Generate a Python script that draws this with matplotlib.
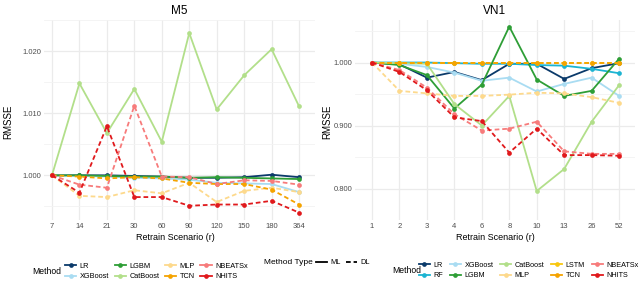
import matplotlib.pyplot as plt
from matplotlib.lines import Line2D

plt.rcParams["font.family"] = ["Liberation Sans", "DejaVu Sans"]

# ---- data ----
m5_x = ["7", "14", "21", "30", "60", "90", "120", "150", "180", "364"]
vn1_x = ["1", "2", "3", "4", "6", "8", "10", "13", "26", "52"]

m5 = {
    "LR":      [1.0000, 1.0000, 1.0000, 0.9999, 0.9998, 0.9996, 0.9996, 0.9997, 1.0001, 0.9997],
    "XGBoost": [1.0000, 0.9999, 0.9998, 0.9996, 0.9995, 0.9993, 0.9988, 0.9987, 0.9986, 0.9973],
    "LGBM":    [1.0000, 1.0000, 0.9999, 0.9998, 0.9998, 0.9996, 0.9997, 0.9996, 0.9995, 0.9994],
    "CatBoost":[1.0000, 1.0148, 1.0068, 1.0139, 1.0054, 1.0229, 1.0106, 1.0161, 1.0203, 1.0111],
    "MLP":     [1.0000, 0.9967, 0.9965, 0.9976, 0.9971, 0.9988, 0.9957, 0.9975, 0.9980, 0.9973],
    "TCN":     [1.0000, 0.9998, 0.9995, 0.9997, 0.9995, 0.9988, 0.9986, 0.9986, 0.9977, 0.9953],
    "NBEATSx": [1.0000, 0.9985, 0.9980, 1.0112, 0.9998, 0.9997, 0.9986, 0.9992, 0.9991, 0.9985],
    "NHITS":   [1.0000, 0.9972, 1.0079, 0.9965, 0.9965, 0.9951, 0.9953, 0.9953, 0.9959, 0.9940],
}

vn1 = {
    "LR":      [1.000, 0.997, 0.976, 0.985, 0.972, 0.998, 0.998, 0.974, 0.991, 0.999],
    "RF":      [1.000, 1.000, 1.000, 0.999, 0.998, 0.998, 0.996, 0.995, 0.990, 0.983],
    "XGBoost": [1.000, 0.998, 0.993, 0.984, 0.971, 0.976, 0.954, 0.966, 0.976, 0.947],
    "LGBM":    [1.000, 0.996, 0.980, 0.927, 0.965, 1.057, 0.973, 0.947, 0.955, 1.006],
    "CatBoost":[1.000, 0.999, 0.998, 0.934, 0.900, 0.947, 0.796, 0.831, 0.906, 0.964],
    "MLP":     [1.000, 0.955, 0.951, 0.947, 0.947, 0.949, 0.952, 0.951, 0.945, 0.936],
    "LSTM":    [1.000, 1.000, 1.000, 1.000, 1.000, 1.000, 1.000, 1.000, 1.000, 1.000],
    "TCN":     [1.000, 1.000, 1.000, 1.000, 1.000, 1.000, 1.000, 1.000, 1.000, 1.000],
    "NBEATSx": [1.000, 0.988, 0.960, 0.918, 0.892, 0.895, 0.906, 0.859, 0.855, 0.855],
    "NHITS":   [1.000, 0.985, 0.956, 0.913, 0.907, 0.857, 0.895, 0.853, 0.853, 0.852],
}

colors = {
    "LR": "#0b3a6a", "RF": "#1cb4d2", "XGBoost": "#a9dcf2", "LGBM": "#2e9e36",
    "CatBoost": "#b2df8a", "MLP": "#fdd98c", "LSTM": "#f8c70f", "TCN": "#f5a300",
    "NBEATSx": "#f77b7b", "NHITS": "#e0191c",
}
dl = {"MLP", "LSTM", "TCN", "NBEATSx", "NHITS"}
DASH = (0, (2.6, 1.6))

fig = plt.figure(figsize=(6.4, 2.83), dpi=100)
W, H = 640, 283


def px_axes(x0, y0, x1, y1):
    return fig.add_axes([x0 / W, 1 - y1 / H, (x1 - x0) / W, (y1 - y0) / H])


def draw_panel(ax, xs, data, title, ylim, yticks, xlim):
    for name, vals in data.items():
        ls = DASH if name in dl else "-"
        ax.plot(xs, vals, color=colors[name], lw=1.3, ls=ls, marker="o",
                ms=3.4, mec=colors[name], mew=0)
    ax.set_xlim(*xlim)
    ax.set_ylim(*ylim)
    ax.set_yticks(yticks)
    ax.set_yticklabels([f"{t:.3f}" for t in yticks])
    step = yticks[1] - yticks[0]
    minor = [yticks[0] - step / 2] + [t + step / 2 for t in yticks]
    ax.set_yticks(minor, minor=True)
    ax.grid(True, which="major", color="#ebebeb", lw=0.9)
    ax.grid(True, which="minor", axis="y", color="#f3f3f3", lw=0.6)
    ax.set_axisbelow(True)
    for s in ax.spines.values():
        s.set_visible(False)
    ax.tick_params(which="both", length=0, labelsize=5.5, labelcolor="#4d4d4d", pad=2)
    ax.set_title(title, fontsize=8.5, pad=4)


ax1 = px_axes(44, 20, 315, 220)
draw_panel(ax1, m5_x, m5, "M5", (0.99281, 1.02406), [1.000, 1.010, 1.020], (-0.29, 9.58))
ax2 = px_axes(355, 20, 635, 220)
draw_panel(ax2, vn1_x, vn1, "VN1", (0.7843, 1.0675), [0.800, 0.900, 1.000], (-0.62, 9.58))

for cx in (175, 495):
    fig.text(cx / W, 1 - 238 / H, "Retrain Scenario (r)", ha="center", va="center", fontsize=6.5)
for lx in (8, 327):
    fig.text(lx / W, 1 - 122 / H, "RMSSE", ha="center", va="center", rotation=90, fontsize=7)


def handles(names):
    return [Line2D([], [], color=colors[n], lw=1.3, marker="o", ms=3.4, mew=0) for n in names]


def leg_kw(colsp, size=5.3):
    return dict(frameon=False, fontsize=size, handlelength=1.5, handletextpad=0.5,
                columnspacing=colsp, labelspacing=0.45, borderpad=0, borderaxespad=0)


left_names = ["LR", "XGBoost", "LGBM", "CatBoost", "MLP", "TCN", "NBEATSx", "NHITS"]
fig.text(32 / W, 1 - 271.5 / H, "Method", ha="left", va="center", fontsize=6.2)
fig.legend(handles(left_names), left_names, ncol=4, loc="center left",
           bbox_to_anchor=(65 / W, 1 - 271.5 / H), **leg_kw(0.75))

right_names = ["LR", "RF", "XGBoost", "LGBM", "CatBoost", "MLP", "LSTM", "TCN", "NBEATSx", "NHITS"]
fig.text(392 / W, 1 - 270.5 / H, "Method", ha="left", va="center", fontsize=6.2)
fig.legend(handles(right_names), right_names, ncol=5, loc="center left",
           bbox_to_anchor=(419 / W, 1 - 270.5 / H), **leg_kw(0.95, 5.2))

fig.text(264 / W, 1 - 262.5 / H, "Method Type", ha="left", va="center", fontsize=6.0)
type_h = [Line2D([], [], color="black", lw=1.3, ls="-"),
          Line2D([], [], color="black", lw=1.3, ls=DASH)]
fig.legend(type_h, ["ML", "DL"], ncol=2, loc="center left",
           bbox_to_anchor=(316 / W, 1 - 262.5 / H), **leg_kw(0.6))

fig.savefig("out.png", dpi=100, facecolor="white")
